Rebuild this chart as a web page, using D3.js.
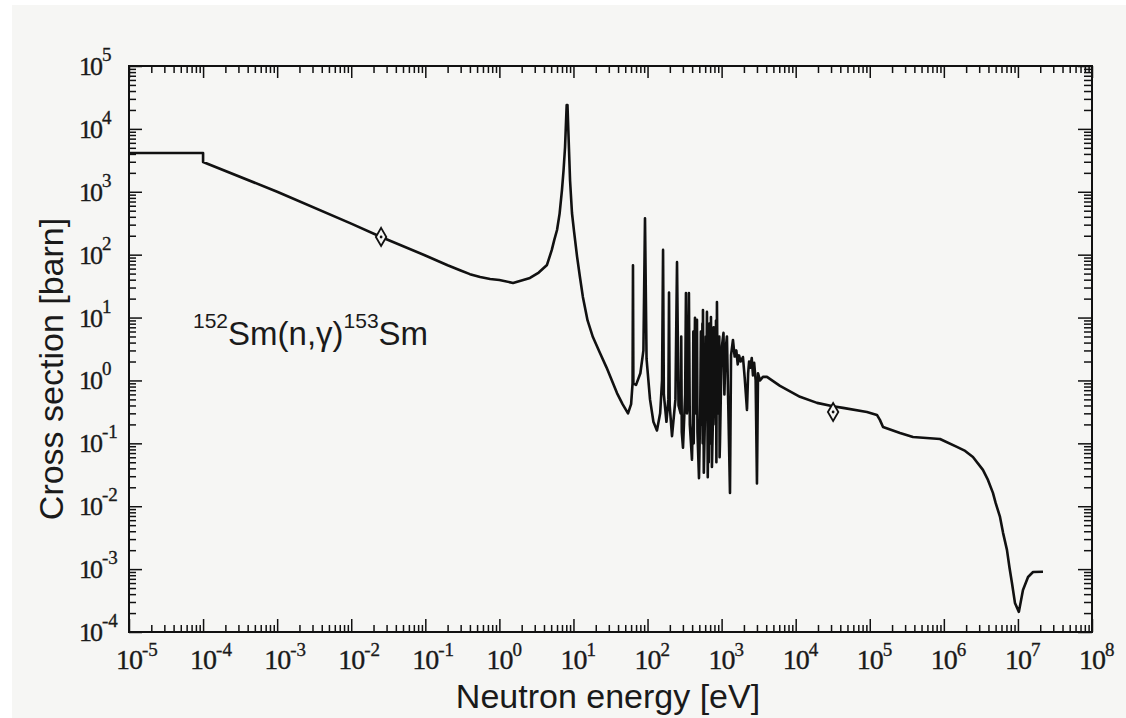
<!DOCTYPE html>
<html>
<head>
<meta charset="utf-8">
<style>
body { margin:0; background:#ffffff; }
svg { display:block; }
.tick-label { font-family:"Liberation Serif","Times New Roman",serif; fill:#1a1a1a; stroke:#1a1a1a; stroke-width:0.35; }
.title { font-family:"Liberation Sans",Arial,sans-serif; fill:#1a1a1a; }
</style>
</head>
<body>
<svg id="plot"></svg>
<script src="https://d3js.org/d3.v7.min.js"></script>
<script>

// 152Sm(n,g) capture cross section, [energy eV, sigma barn]
var thermal = [
    [1e-5,4140],[1e-4,4140],[1e-4,2980],[1e-3,1000],[1e-2,312],[0.0253,191],
    [0.1,97],[0.2,68],[0.3,56],[0.4,49],[0.55,44],[0.75,41],[1.0,39.6],[1.53,35.5],
    [2.59,42.6],[3.4,52],[4.39,68.6],[5.1,119],[5.5,170],[6.0,247],[6.5,450],[7.0,1069],
    [7.35,2200],[7.7,5150],[8.1,24000],[8.3,24000],[9.0,1500],[9.55,460],[10.2,230],
    [11.2,92],[12.2,45],[13.4,21.3],[15.5,9],[18.3,4.9],[22.8,2.74],[28,1.6],
    [38.7,0.63],[46,0.42],[54.5,0.30]
];

var resonances = [
    [60,0.42],[62.8,0.9],[63.6,68],[64.4,0.9],[70,0.85],[80,1.3],[88,3.0],[92.4,380],
    [97,2.2],[108,0.5],[120,0.22],[134,0.16],[148,0.3],[157,1.0],[162,119],[166,0.6],
    [180,0.22],[191,0.5],[195,25],[199,0.4],[214,0.13],[238,0.5],[250,76],[262,0.4],
    [280,0.3],[285,5],[290,0.15],[301,0.085],[322,0.6],[330,24.6],[340,0.3],[352,0.5],
    [362,24.6],[372,0.2],[398,0.055],[410,0.3],[415,6],[420,0.1],[425,0.6],[437,9.9],
    [448,0.3],[458,0.4],[465,9.2],[472,0.15],[495,0.028],[515,0.4],[525,6],[535,0.2],
    [545,0.3],[550,8],[555,0.1],[560,13.2],[575,0.034],[600,0.4],[612,5],[620,0.3],
    [634,12.3],[650,0.029],[660,0.2],[665,6],[670,0.05],[685,8],[695,0.2],[705,0.3],
    [710,4],[714,0.1],[718,10.2],[740,0.042],[770,0.4],[780,7],[792,0.3],[820,1.2],
    [830,0.2],[840,9],[850,0.05],[865,17.7],[890,0.3],[920,0.3],[930,5],[940,0.06],
    [950,0.1],[990,1.5],[1010,3.5],[1060,5.7],[1090,0.6],[1130,3],[1180,5.0],[1230,0.4],
    [1297,0.0163],[1340,2.5],[1423,4.4],[1500,2.4],[1580,3.0],[1650,1.8],[1720,2.5],
    [1800,2.0],[1941,2.36],[2050,1.1],[2200,0.34],[2280,1.3],[2350,2.0],[2450,1.6],
    [2550,2.28],[2650,1.2],[2750,1.9],[2880,1.0],[3000,0.023],[3100,1.3],[3300,1.0],
    [3614,1.14],[4093,1.14]
];

var fast = [
    [6140,0.82],[11430,0.55],[19400,0.44],[31800,0.39],[43500,0.366],[91600,0.315],
    [125000,0.283],[137000,0.236],[151000,0.182],[256000,0.146],[383000,0.126],
    [887000,0.117],[1.5e6,0.0877],[1.94e6,0.0757],[2.47e6,0.0608],[3.37e6,0.0378],
    [3.94e6,0.0262],[4.6e6,0.0163],[5.0e6,0.0113],[5.73e6,0.00676],[6.3e6,0.00377],
    [7.11e6,0.00202],[7.7e6,0.00105],[8.31e6,6.0e-4],[9.12e6,2.9e-4],[1.03e7,2.09e-4],
    [1.17e7,4.67e-4],[1.37e7,7.5e-4],[1.6e7,9.0e-4],[2.18e7,9.1e-4]
];

// thermal and 30 keV reference points
var markers = [[0.0253,191],[3.2e4,0.315]];

var xExponents = [-5,-4,-3,-2,-1,0,1,2,3,4,5,6,7,8];
var yExponents = [-4,-3,-2,-1,0,1,2,3,4,5];

var width = 1126, height = 718;

var svg = d3.select("#plot")
    .attr("width",width)
    .attr("height",height);

// scanned page background
svg.append("rect")
    .attr("x",12).attr("y",5)
    .attr("width",width-12).attr("height",height-5)
    .attr("fill","#f6f6f4");

var xScale = d3.scaleLog().domain([1e-5,1e8]).range([129,1092]);
var yScale = d3.scaleLog().domain([1e-4,1e5]).range([632,66]);

var majorX = xExponents.map(function(e){ return Math.pow(10,e); });
var majorY = yExponents.map(function(e){ return Math.pow(10,e); });

var minorX = [], minorY = [];
xExponents.slice(0,-1).forEach(function(e){
    for (var k=2;k<10;k++) minorX.push(k*Math.pow(10,e));
});
yExponents.slice(0,-1).forEach(function(e){
    for (var k=2;k<10;k++) minorY.push(k*Math.pow(10,e));
});

// inward ticks on all four sides
var drawTicks = function(axis, values, size, transform)
{
    var g = svg.append("g")
        .attr("transform",transform)
        .call(axis.tickValues(values).tickSize(-size).tickSizeOuter(0).tickFormat(""));
    g.select(".domain").remove();
    g.selectAll("text").remove();
    g.selectAll("line")
        .attr("stroke","#111")
        .attr("stroke-width",1.5);
}

drawTicks(d3.axisBottom(xScale), majorX, 13, "translate(0,632)");
drawTicks(d3.axisBottom(xScale), minorX, 7, "translate(0,632)");
drawTicks(d3.axisTop(xScale), majorX, 12, "translate(0,66)");
drawTicks(d3.axisTop(xScale), minorX, 7, "translate(0,66)");
drawTicks(d3.axisLeft(yScale), majorY, 13, "translate(129,0)");
drawTicks(d3.axisLeft(yScale), minorY, 7, "translate(129,0)");
drawTicks(d3.axisRight(yScale), majorY, 14, "translate(1092,0)");
drawTicks(d3.axisRight(yScale), minorY, 8, "translate(1092,0)");

// frame
svg.append("rect")
    .attr("x",129).attr("y",66)
    .attr("width",1092-129).attr("height",632-66)
    .attr("fill","none")
    .attr("stroke","#111")
    .attr("stroke-width",2);

// x tick labels
var xl = svg.append("g").classed("tick-label",true);
xExponents.forEach(function(e)
{
    var px = xScale(Math.pow(10,e));
    xl.append("text")
        .attr("x",px).attr("y",669)
        .attr("text-anchor","middle")
        .attr("font-size",28)
        .attr("letter-spacing",-1)
        .text("10");
    xl.append("text")
        .attr("x",px+13).attr("y",656)
        .attr("font-size",19)
        .text(e);
});

// y tick labels
var yl = svg.append("g").classed("tick-label",true);
yExponents.forEach(function(e)
{
    var py = yScale(Math.pow(10,e));
    yl.append("text")
        .attr("x",79).attr("y",py+9)
        .attr("font-size",26)
        .attr("letter-spacing",-2)
        .text("10");
    yl.append("text")
        .attr("x",102).attr("y",py-5)
        .attr("font-size",19)
        .text(e);
});

// the curve
var line = d3.line()
    .x(function(d){ return xScale(d[0]); })
    .y(function(d){ return yScale(d[1]); });

svg.append("path")
    .datum(thermal.concat(resonances,fast))
    .attr("d",line)
    .attr("fill","none")
    .attr("stroke","#111")
    .attr("stroke-width",2.6)
    .attr("stroke-linejoin","round");

// reference points
var pts = svg.append("g")
    .selectAll("g")
    .data(markers)
    .enter()
    .append("g")
    .attr("transform",function(d){ return "translate("+xScale(d[0])+","+yScale(d[1])+")"; });

pts.append("path")
    .attr("d",d3.symbol().type(d3.symbolDiamond).size(95))
    .attr("fill","#f6f6f4")
    .attr("stroke","#111")
    .attr("stroke-width",1.8);
pts.append("circle")
    .attr("r",1.4)
    .attr("fill","#111");

// axis titles
svg.append("text")
    .classed("title",true)
    .attr("x",608).attr("y",708)
    .attr("text-anchor","middle")
    .attr("font-size",34)
    .text("Neutron energy [eV]");

svg.append("text")
    .classed("title",true)
    .attr("transform","translate(63,369) rotate(-90)")
    .attr("text-anchor","middle")
    .attr("font-size",34)
    .text("Cross section [barn]");

// reaction label
var label = svg.append("text")
    .classed("title",true)
    .attr("x",193).attr("y",345);
label.append("tspan").attr("y",328).attr("font-size",21).text("152");
label.append("tspan").attr("y",345).attr("font-size",33).text("Sm(n,\u03b3)");
label.append("tspan").attr("y",328).attr("font-size",21).text("153");
label.append("tspan").attr("y",345).attr("font-size",33).text("Sm");

</script>
</body>
</html>
